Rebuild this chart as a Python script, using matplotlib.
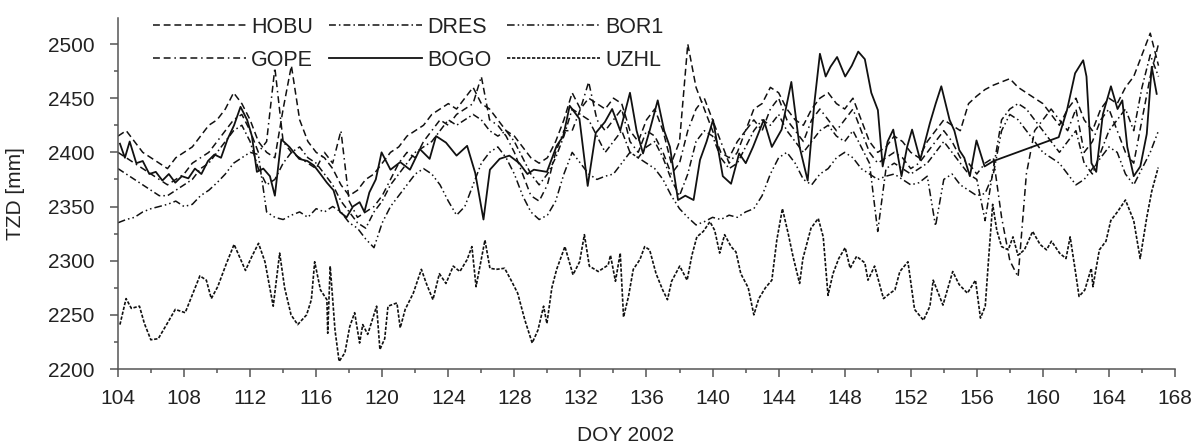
import matplotlib
matplotlib.use("Agg")
import matplotlib.pyplot as plt
from matplotlib.ticker import MultipleLocator

plt.rcParams["font.family"] = ["Liberation Sans", "DejaVu Sans"]

# half-day samples for the four upper dashed stations
days = [104.0 + 0.5 * i for i in range(127)]

hobu = [2415, 2420, 2410, 2400, 2395, 2390, 2385, 2395, 2400, 2405,
        2415, 2425, 2430, 2440, 2455, 2445, 2430, 2410, 2400, 2395,
        2440, 2480, 2430, 2410, 2400, 2395, 2385, 2370, 2360, 2365,
        2375, 2380, 2390, 2400, 2405, 2415, 2420, 2425, 2435, 2440,
        2445, 2440, 2450, 2460, 2445, 2440, 2430, 2420, 2415, 2405,
        2395, 2390, 2395, 2410, 2430, 2455, 2440, 2450, 2445,
        2440, 2450, 2445, 2420, 2410, 2430, 2440, 2420, 2390, 2410,
        2500, 2460, 2440, 2420, 2400, 2395, 2410, 2420, 2440, 2445,
        2460, 2455, 2440, 2430, 2425, 2440, 2450, 2455, 2445, 2440,
        2450, 2430, 2410, 2400, 2405, 2415, 2410, 2400, 2395, 2410,
        2420, 2430, 2425, 2420, 2445, 2452, 2458, 2462, 2465, 2468,
        2460, 2455, 2450, 2445, 2435, 2425, 2440, 2450, 2430, 2420,
        2440, 2450, 2445, 2460, 2470, 2490, 2510, 2480]

gope = [2400, 2395, 2390, 2385, 2380, 2375, 2370, 2375, 2380, 2390,
        2395, 2400, 2410, 2420, 2430, 2435, 2420, 2400, 2410, 2478,
        2410, 2400, 2395, 2390, 2385, 2400, 2390, 2420, 2355, 2340,
        2345, 2350, 2360, 2375, 2390, 2400, 2395, 2410, 2420, 2430,
        2425, 2435, 2440, 2445, 2470, 2430, 2425, 2415, 2400, 2380,
        2360, 2355, 2370, 2400, 2420, 2420, 2440, 2465, 2430,
        2420, 2430, 2440, 2410, 2400, 2420, 2415, 2400, 2380, 2390,
        2420, 2440, 2450, 2430, 2410, 2390, 2400, 2420, 2430, 2420,
        2440, 2450, 2430, 2420, 2410, 2430, 2440, 2430, 2420, 2430,
        2440, 2420, 2400, 2390, 2395, 2400, 2395, 2385, 2390, 2400,
        2410, 2420, 2410, 2395, 2390, 2380, 2390, 2395, 2340, 2300,
        2285, 2380, 2420, 2430, 2440, 2430, 2420, 2440, 2400, 2410,
        2430, 2440, 2420, 2400, 2390, 2430, 2470, 2500]

dres = [2385, 2380, 2375, 2370, 2365, 2360, 2360, 2365, 2370, 2375,
        2385, 2390, 2400, 2410, 2420, 2425, 2410, 2385, 2370, 2375,
        2390, 2400, 2405, 2395, 2390, 2380, 2370, 2355, 2345, 2335,
        2330, 2345, 2355, 2370, 2380, 2390, 2400, 2405, 2410, 2420,
        2430, 2425, 2430, 2435, 2430, 2420, 2415, 2420, 2410, 2395,
        2380, 2370, 2380, 2395, 2415, 2440, 2435, 2430, 2415,
        2400, 2410, 2420, 2400, 2395, 2405, 2410, 2395, 2375, 2360,
        2380, 2410, 2420, 2415, 2395, 2385, 2390, 2405, 2420, 2430,
        2425, 2435, 2420, 2410, 2400, 2410, 2420, 2425, 2415, 2410,
        2420, 2405, 2390, 2327, 2385, 2390, 2385, 2380, 2385, 2390,
        2400, 2410, 2400, 2390, 2380, 2375, 2337, 2385, 2430, 2440,
        2445, 2440, 2430, 2420, 2410, 2400, 2410, 2420, 2390, 2380,
        2400, 2420, 2430, 2440, 2420, 2460, 2490, 2470]

bor1 = [2335, 2338, 2340, 2345, 2348, 2350, 2352, 2355, 2350, 2352,
        2360, 2365, 2372, 2380, 2390, 2395, 2400, 2398, 2345, 2340,
        2338, 2342, 2345, 2340, 2348, 2345, 2350, 2345, 2335, 2330,
        2320, 2312, 2335, 2350, 2360, 2370, 2380, 2385, 2380, 2370,
        2355, 2342, 2350, 2370, 2390, 2400, 2405, 2395, 2380, 2360,
        2345, 2338, 2342, 2355, 2380, 2400, 2390, 2380, 2375,
        2378, 2380, 2390, 2400, 2395, 2390, 2385, 2375, 2360, 2348,
        2340, 2333, 2336, 2340, 2338, 2342, 2340, 2345, 2348, 2360,
        2380, 2395, 2400, 2390, 2375, 2370, 2380, 2385, 2395, 2400,
        2395, 2385, 2380, 2375, 2378, 2380, 2375, 2370, 2372, 2378,
        2332, 2375, 2380, 2370, 2365, 2360, 2362, 2380, 2420, 2435,
        2430, 2420, 2410, 2400, 2395, 2390, 2380, 2370, 2375, 2385,
        2395, 2405, 2400, 2380, 2370, 2385, 2400, 2420]

# (day, mm) pairs
bogo = [(104.12, 2408), (104.42, 2395), (104.71, 2410), (105.11, 2390), (105.5, 2392),
        (105.9, 2380), (106.29, 2382), (106.69, 2374), (107.08, 2380), (107.47, 2372),
        (107.87, 2378), (108.26, 2376), (108.66, 2385), (109.05, 2380), (109.45, 2392),
        (109.84, 2398), (110.24, 2395), (110.63, 2412), (111.03, 2425), (111.42, 2442),
        (111.82, 2430), (112.11, 2415), (112.41, 2382), (112.8, 2385), (113.2, 2378),
        (113.5, 2360), (113.89, 2412), (114.38, 2405), (114.97, 2394), (115.47, 2392),
        (115.86, 2388), (116.26, 2380), (116.65, 2372), (117.05, 2365), (117.44, 2345),
        (117.84, 2340), (118.23, 2350), (118.63, 2354), (118.92, 2345), (119.22, 2363),
        (119.61, 2375), (119.96, 2400), (120.5, 2384), (121.09, 2391), (121.68, 2384),
        (122.28, 2403), (122.87, 2394), (123.26, 2415), (123.86, 2409), (124.5, 2397),
        (125.14, 2406), (125.63, 2381), (126.13, 2338), (126.52, 2384), (127.11, 2394),
        (127.7, 2397), (128.3, 2390), (128.79, 2380), (129.18, 2384), (129.97, 2382),
        (130.56, 2406), (130.96, 2415), (131.35, 2443), (131.94, 2431), (132.44, 2369),
        (132.93, 2418), (133.48, 2428), (133.92, 2440), (134.41, 2420), (135.0, 2455),
        (135.4, 2420), (135.79, 2399), (136.19, 2420), (136.68, 2448), (137.07, 2420),
        (137.42, 2405), (137.91, 2356), (138.35, 2360), (138.85, 2356), (139.24, 2393),
        (139.64, 2410), (140.03, 2430), (140.62, 2378), (141.12, 2371), (141.61, 2399),
        (142.01, 2390), (142.45, 2405), (143.1, 2430), (143.59, 2405), (144.18, 2421),
        (144.77, 2465), (145.27, 2405), (145.76, 2374), (146.16, 2445), (146.5, 2491),
        (146.85, 2470), (147.14, 2479), (147.54, 2488), (148.03, 2470), (148.43, 2480),
        (148.82, 2493), (149.22, 2486), (149.61, 2455), (150.01, 2439), (150.3, 2387),
        (150.6, 2410), (150.94, 2421), (151.44, 2378), (151.78, 2405), (152.08, 2421),
        (152.57, 2393), (152.87, 2410), (153.16, 2427), (153.51, 2445), (153.85, 2461),
        (154.35, 2430), (154.64, 2420), (154.94, 2402), (155.24, 2395), (155.58, 2378),
        (155.98, 2411), (156.47, 2387), (157.01, 2392), (160.96, 2414), (161.46, 2439),
        (161.95, 2473), (162.44, 2485), (162.64, 2470), (162.94, 2390), (163.23, 2382),
        (163.63, 2435), (164.12, 2461), (164.52, 2440), (164.81, 2448), (165.11, 2405),
        (165.5, 2378), (165.9, 2387), (166.29, 2417), (166.59, 2479), (166.89, 2454)]

uzhl = [(104.12, 2241), (104.49, 2265), (104.81, 2256), (105.3, 2258), (105.6, 2242),
        (105.99, 2227), (106.44, 2228), (106.98, 2242), (107.47, 2255), (108.07, 2252),
        (108.46, 2267), (108.96, 2286), (109.35, 2282), (109.65, 2265), (110.04, 2276),
        (110.53, 2296), (111.03, 2315), (111.32, 2305), (111.72, 2291), (112.11, 2304),
        (112.51, 2316), (112.9, 2299), (113.4, 2258), (113.79, 2307), (114.09, 2275),
        (114.48, 2250), (114.88, 2241), (115.42, 2250), (115.71, 2264), (115.91, 2299),
        (116.26, 2273), (116.65, 2264), (116.7, 2233), (116.85, 2295), (117.14, 2236),
        (117.39, 2207), (117.74, 2215), (118.03, 2239), (118.33, 2252), (118.63, 2224),
        (118.82, 2241), (119.12, 2232), (119.66, 2258), (119.86, 2218), (120.15, 2228),
        (120.35, 2258), (120.89, 2261), (121.09, 2238), (121.39, 2255), (121.88, 2270),
        (122.37, 2292), (122.67, 2279), (123.07, 2264), (123.46, 2288), (123.86, 2279),
        (124.3, 2295), (124.7, 2290), (125.14, 2301), (125.43, 2313), (125.68, 2276),
        (126.22, 2319), (126.52, 2293), (126.91, 2292), (127.41, 2293), (127.8, 2282),
        (128.2, 2270), (128.64, 2245), (129.08, 2224), (129.43, 2236), (129.77, 2258),
        (129.97, 2242), (130.27, 2275), (130.56, 2292), (131.06, 2313), (131.55, 2287),
        (131.95, 2299), (132.24, 2324), (132.54, 2295), (133.08, 2290), (133.68, 2296),
        (133.82, 2305), (134.12, 2281), (134.41, 2307), (134.61, 2248), (134.91, 2267),
        (135.2, 2292), (135.6, 2301), (135.89, 2313), (136.19, 2310), (136.58, 2288),
        (136.98, 2273), (137.27, 2264), (137.52, 2281), (138.01, 2295), (138.46, 2282),
        (138.75, 2305), (139.05, 2322), (139.44, 2327), (139.84, 2336), (140.13, 2328),
        (140.43, 2307), (140.73, 2324), (141.12, 2313), (141.42, 2308), (141.71, 2288),
        (142.16, 2275), (142.5, 2250), (142.8, 2265), (143.2, 2275), (143.59, 2282),
        (143.89, 2319), (144.23, 2348), (144.58, 2325), (144.87, 2304), (145.27, 2279),
        (145.47, 2302), (145.96, 2330), (146.4, 2339), (146.7, 2322), (146.99, 2268),
        (147.29, 2288), (147.64, 2302), (148.03, 2312), (148.33, 2293), (148.72, 2304),
        (149.22, 2298), (149.41, 2282), (149.81, 2295), (150.35, 2265), (150.75, 2270),
        (151.04, 2273), (151.34, 2290), (151.83, 2299), (152.23, 2255), (152.77, 2245),
        (153.16, 2258), (153.36, 2282), (153.95, 2259), (154.54, 2290), (154.93, 2278),
        (155.43, 2270), (155.92, 2282), (156.22, 2247), (156.51, 2258), (156.71, 2301),
        (156.96, 2352), (157.21, 2328), (157.5, 2313), (157.9, 2310), (158.19, 2322),
        (158.49, 2305), (158.88, 2310), (159.38, 2327), (159.83, 2315), (160.22, 2310),
        (160.52, 2318), (161.01, 2307), (161.4, 2302), (161.65, 2322), (161.95, 2292),
        (162.19, 2267), (162.54, 2273), (162.93, 2293), (163.03, 2276), (163.42, 2310),
        (163.82, 2318), (164.11, 2337), (164.51, 2345), (165.0, 2356), (165.5, 2337),
        (165.89, 2302), (166.29, 2340), (166.59, 2364), (166.98, 2386)]

bogo_day, bogo_val = zip(*bogo)
uzhl_day, uzhl_val = zip(*uzhl)

ink = "#111111"
txt = "#222222"
fig = plt.figure(figsize=(11.94, 4.46), dpi=100)
ax = fig.add_axes([0.0988, 0.1726, 0.8853, 0.787])

# plotting order makes the 3-column legend read row-wise like the original
ax.plot(days, hobu, color=ink, lw=1.1, ls=(0, (4.5, 2.5)), label="HOBU")
ax.plot(days, gope, color=ink, lw=1.1, ls=(0, (4.5, 2.5, 4.5, 2.5, 1, 2.5)), label="GOPE")
ax.plot(days, dres, color=ink, lw=1.1, ls=(0, (4.5, 2, 1, 2)), label="DRES")
ax.plot(bogo_day, bogo_val, color=ink, lw=1.3, ls="-", label="BOGO")
ax.plot(days, bor1, color=ink, lw=1.1, ls=(0, (5, 2, 1, 2, 1, 2)), label="BOR1")
ax.plot(uzhl_day, uzhl_val, color=ink, lw=1.2, ls=(0, (2, 1)), label="UZHL")

ax.set_xlim(104, 168)
ax.set_ylim(2200, 2524)
ax.xaxis.set_major_locator(MultipleLocator(4))
ax.xaxis.set_minor_locator(MultipleLocator(2))
ax.yaxis.set_major_locator(MultipleLocator(50))
ax.yaxis.set_minor_locator(MultipleLocator(25))
ax.tick_params(which="major", length=5.8, width=1.1, color="#555555",
               labelsize=15, labelcolor=txt)
ax.tick_params(which="minor", length=2.6, width=1.1, color="#555555")
ax.tick_params(axis="y", which="major", pad=11)
ax.tick_params(axis="x", which="major", pad=8.5)
for s in ["top", "right"]:
    ax.spines[s].set_visible(False)
for s in ["left", "bottom"]:
    ax.spines[s].set_color("#555555")
    ax.spines[s].set_linewidth(1.1)

ax.set_xlabel("DOY 2002", fontsize=15, color=txt)
ax.xaxis.set_label_coords(0.4806, -0.162)
ax.set_ylabel("TZD [mm]", fontsize=15, color=txt)
ax.yaxis.set_label_coords(-0.088, 0.5)

ax.legend(ncol=3, frameon=False, loc="upper left", bbox_to_anchor=(0.025, 1.028),
          fontsize=15.5, handlelength=4.3, handletextpad=0.25, columnspacing=0.75,
          labelspacing=0.55, borderaxespad=0, labelcolor=txt)

fig.savefig("out.png", dpi=100)
